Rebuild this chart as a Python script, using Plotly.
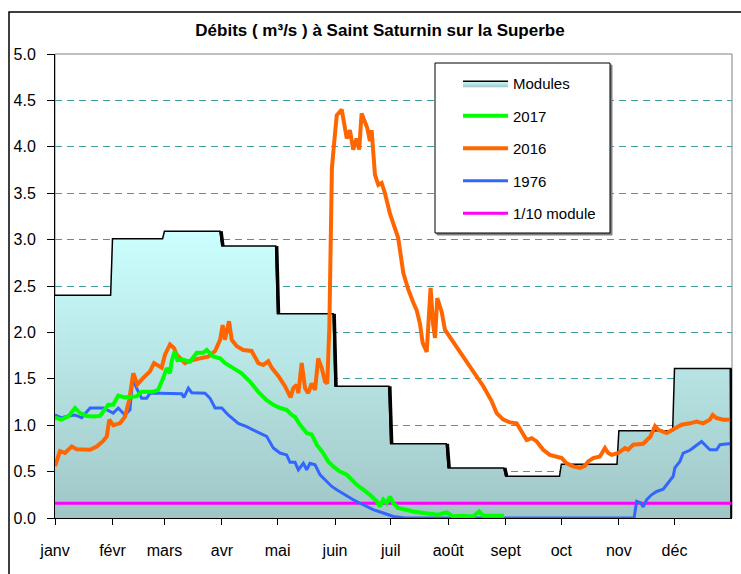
import pandas as pd
import plotly.graph_objects as go

# ---------------- data ----------------
months = ["janv", "févr", "mars", "avr", "mai", "juin", "juil", "août", "sept", "oct", "nov", "déc"]
modules = [2.40, 3.01, 3.09, 2.93, 2.20, 1.42, 0.80, 0.54, 0.45, 0.58, 0.94, 1.61]
tenth_module = 0.16

# (day of year, m3/s)
pts_2017 = [
    [0, 1.08], [3.4, 1.06], [7.2, 1.095], [10.8, 1.185], [13.5, 1.13], [17.1, 1.10], [20.7, 1.095],
    [24.3, 1.10], [28.7, 1.22], [31.4, 1.22], [34.1, 1.32], [37.7, 1.30], [44, 1.31], [46.7, 1.36],
    [53, 1.36], [55.6, 1.38], [58.4, 1.51], [60.2, 1.615], [62, 1.56], [62.9, 1.69], [64.5, 1.795],
    [66, 1.70], [69.2, 1.705], [72.8, 1.685], [76.4, 1.78], [79.9, 1.78], [81.8, 1.81], [85.3, 1.74],
    [89, 1.72], [91.6, 1.67], [96.1, 1.615], [100.6, 1.56], [105.1, 1.47], [109.6, 1.36], [114.1, 1.27],
    [117.7, 1.22], [121.3, 1.185], [124.9, 1.165], [127.6, 1.11], [129.4, 1.09], [132.1, 1.005],
    [135.7, 0.915], [138.4, 0.90], [141.1, 0.79], [144.6, 0.70], [147.3, 0.61], [150, 0.556],
    [153.6, 0.50], [157.3, 0.466], [160, 0.41], [162.6, 0.36], [166.2, 0.305], [169.8, 0.25],
    [173.4, 0.18], [175.2, 0.125], [177, 0.197], [178.8, 0.16], [180.6, 0.23], [182.4, 0.16],
    [185, 0.108], [188.7, 0.09], [193.2, 0.07], [198.5, 0.054], [203.9, 0.036], [206.6, 0.036],
    [211.2, 0.06], [214.7, 0.017], [219.2, 0.025], [225.5, 0.017], [228.7, 0.07], [230.9, 0.025],
    [236.3, 0.025], [242, 0.025],
]

pts_2016 = [
    [0, 0.56], [2.7, 0.72], [5.4, 0.70], [9, 0.77], [11.7, 0.74], [15.3, 0.74], [18.9, 0.735],
    [22.5, 0.77], [26, 0.83], [27.9, 0.88], [29.3, 1.06], [31.4, 1.0], [35, 1.02], [37.7, 1.09],
    [40, 1.27], [42.2, 1.56], [44.4, 1.44], [47.6, 1.51], [51.2, 1.58], [53.4, 1.67], [57.5, 1.62],
    [59.3, 1.76], [62, 1.87], [64.2, 1.83], [65.6, 1.76], [70, 1.67], [73.7, 1.70], [78.2, 1.72],
    [82.6, 1.74], [86.3, 1.80], [89, 1.92], [90.4, 2.08], [91.6, 1.92], [93.8, 2.12], [95.3, 1.92],
    [98, 1.85], [101.5, 1.81], [106, 1.80], [109.6, 1.67], [112.3, 1.65], [115, 1.69], [116.8, 1.62],
    [120.4, 1.53], [124, 1.42], [127, 1.30], [128.5, 1.40], [130.3, 1.435], [131.2, 1.345],
    [133, 1.67], [134.8, 1.40], [136.5, 1.345], [138.4, 1.45], [140.2, 1.38], [141.9, 1.72],
    [143.8, 1.615], [145.6, 1.47], [146.8, 1.45], [147.9, 2.05], [148.6, 2.76], [149.3, 3.77],
    [150.4, 4.02], [151.9, 4.34], [154.6, 4.40], [156.3, 4.16], [157.3, 4.09], [159, 4.18],
    [160.8, 3.97], [162.6, 4.09], [164, 3.97], [165.3, 4.36], [167.1, 4.27], [168.4, 4.20],
    [169.8, 4.06], [170.7, 4.18], [172.5, 3.70], [174.3, 3.59], [176.1, 3.61], [177.9, 3.50],
    [180.6, 3.28], [183.3, 3.12], [185, 3.02], [187.8, 2.64], [190.5, 2.46], [193.2, 2.32],
    [195, 2.24], [196.8, 2.09], [198.2, 1.89], [200.4, 1.79], [202.5, 2.48], [203.9, 2.08],
    [204.9, 1.94], [206.1, 2.37], [208.5, 2.22], [210.2, 2.03], [216.5, 1.85], [223.7, 1.63],
    [230.9, 1.42], [235.4, 1.26], [238.1, 1.13], [241.7, 1.06], [245.3, 1.03], [248.9, 1.02],
    [251.6, 0.93], [254.3, 0.84], [257, 0.86], [259.7, 0.825], [263.2, 0.735], [266.8, 0.68],
    [270.5, 0.66], [273.2, 0.646], [275.8, 0.59], [279.4, 0.556], [283, 0.54], [285.7, 0.563],
    [287.5, 0.61], [290.2, 0.646], [293.8, 0.663], [296.5, 0.754], [298.3, 0.70], [300.1, 0.68],
    [303.7, 0.70], [307.3, 0.754], [309, 0.735], [311.8, 0.79], [317.1, 0.80], [319, 0.84],
    [321.1, 0.88], [323.5, 0.99], [325.3, 0.95], [329.8, 0.915], [333.3, 0.95], [337.8, 1.005],
    [342.3, 1.02], [345.9, 1.04], [349.5, 1.02], [353.1, 1.06], [354.6, 1.11], [356.7, 1.077],
    [360.3, 1.06], [364, 1.06],
]

pts_1976 = [
    [0, 1.11], [3.6, 1.08], [7.2, 1.10], [10.8, 1.11], [14.4, 1.08], [18.9, 1.185], [26, 1.185],
    [31.4, 1.13], [34.1, 1.185], [37.7, 1.11], [40.4, 1.165], [41.9, 1.51], [44, 1.40], [46.7, 1.29],
    [49.4, 1.29], [51.2, 1.345], [56.6, 1.345], [68.3, 1.34], [69.5, 1.30], [71.9, 1.40], [73.7, 1.35],
    [80.9, 1.345], [83.6, 1.29], [86.3, 1.185], [89.9, 1.185], [93.4, 1.11], [98.8, 1.02],
    [103.3, 0.985], [108.7, 0.93], [114.1, 0.88], [117.7, 0.755], [121.3, 0.70], [124.9, 0.68],
    [126.7, 0.60], [129.4, 0.60], [131.2, 0.52], [133.9, 0.59], [135.7, 0.52], [137.5, 0.59],
    [140.2, 0.574], [142.9, 0.466], [146.5, 0.394], [149.2, 0.34], [151.9, 0.305], [156.3, 0.25],
    [160.8, 0.197], [166.2, 0.143], [171.6, 0.09], [177, 0.054], [182.4, 0.017], [188.7, 0.0],
    [312.2, 0.0], [313.6, 0.18], [315.7, 0.165], [317.1, 0.12], [319, 0.197], [321.6, 0.25],
    [324.4, 0.286], [327.9, 0.31], [330.6, 0.377], [333.3, 0.45], [334.2, 0.54], [336.9, 0.61],
    [338.7, 0.70], [342.3, 0.73], [345, 0.77], [348.6, 0.825], [351.3, 0.77], [353.1, 0.735],
    [356.7, 0.735], [358.5, 0.79], [363, 0.80], [364, 0.80],
]

# ---------------- helpers ----------------
base = pd.Timestamp("2017-01-01")
month_starts = pd.date_range(base, periods=13, freq="MS")
start_days = [(m - base).days for m in month_starts]


def to_x(days):
    return [base + pd.Timedelta(days=float(d)) for d in days]


def split(pts):
    return to_x([p[0] for p in pts]), [p[1] for p in pts]


# module step outline
mod_d, mod_v = [], []
for i, v in enumerate(modules):
    s = start_days[i]
    e = start_days[i + 1] - 1 if i < 11 else start_days[12] - 0.7
    mod_d += [s, e]
    mod_v += [v, v]
mod_d.append(start_days[12] - 0.3)
mod_v.append(0.0)

# thicker descending edges
drop_d, drop_v = [], []
for i in range(11):
    if modules[i + 1] < modules[i]:
        drop_d += [start_days[i + 1] - 1 + 0.5, start_days[i + 1] + 0.5, None]
        drop_v += [modules[i], modules[i + 1], None]
drop_d += [start_days[12] - 0.7 + 0.3, start_days[12] - 0.3 + 0.3]
drop_v += [modules[11], 0.0]
drop_x = [None if d is None else base + pd.Timedelta(days=float(d)) for d in drop_d]

FONT = "Liberation Sans, Arial, sans-serif"

fig = go.Figure()

fig.add_trace(go.Scatter(
    x=to_x(mod_d), y=mod_v, mode="lines", name="Modules",
    line=dict(color="black", width=1.5),
    fill="tozeroy",
    fillgradient=dict(type="vertical", start=0, stop=3.1,
                      colorscale=[[0, "#a0c6c6"], [1, "#ccffff"]]),
    legendgroup="g1", legendrank=1, hoverinfo="skip",
))
fig.add_trace(go.Scatter(
    x=drop_x, y=drop_v, mode="lines", line=dict(color="black", width=3.5),
    showlegend=False, hoverinfo="skip", connectgaps=False,
))
fig.add_trace(go.Scatter(
    x=[base, base + pd.Timedelta(days=364.7)], y=[tenth_module, tenth_module], mode="lines",
    name="1/10 module", line=dict(color="#ff00ff", width=3),
    legendgroup="g5", legendrank=5,
))
x76, y76 = split(pts_1976)
fig.add_trace(go.Scatter(x=x76, y=y76, mode="lines", name="1976",
                         line=dict(color="#3366ff", width=3), legendgroup="g4", legendrank=4))
x16, y16 = split(pts_2016)
fig.add_trace(go.Scatter(x=x16, y=y16, mode="lines", name="2016",
                         line=dict(color="#ff6600", width=4), legendgroup="g3", legendrank=3))
x17, y17 = split(pts_2017)
fig.add_trace(go.Scatter(x=x17, y=y17, mode="lines", name="2017",
                         line=dict(color="#00ff00", width=4), legendgroup="g2", legendrank=2))

W, H = 741, 574
L, R, T, B = 55, 9, 54, 56
pw, ph = W - L - R, H - T - B


def px(xp):
    return (xp - L) / pw


def py(yp):
    return (H - B - yp) / ph


shapes = [
    # outer chart border
    dict(type="rect", xref="paper", yref="paper", x0=px(9), x1=px(760), y0=py(600), y1=py(12),
         line=dict(color="black", width=1.5), fillcolor="rgba(0,0,0,0)", layer="below"),
    # plot area border
    dict(type="rect", xref="paper", yref="paper", x0=0, x1=1, y0=0, y1=1,
         line=dict(color="#808080", width=1), fillcolor="rgba(0,0,0,0)", layer="below"),
    # legend shadow + box
    dict(type="rect", xref="paper", yref="paper", x0=px(437), x1=px(612), y0=py(235), y1=py(65),
         line=dict(color="#808080", width=1), fillcolor="#808080", layer="above"),
    dict(type="rect", xref="paper", yref="paper", x0=px(435), x1=px(610), y0=py(233), y1=py(63),
         line=dict(color="black", width=1), fillcolor="white", layer="above"),
]

fig.update_layout(
    width=W, height=H,
    margin=dict(l=L, r=R, t=T, b=B),
    paper_bgcolor="white", plot_bgcolor="white",
    font=dict(family=FONT, color="black", size=16),
    title=dict(text="<b>Débits ( m³/s ) à Saint Saturnin sur la Superbe</b>",
               x=380 / W, xref="container", xanchor="center",
               y=1 - 30 / H, yref="container", yanchor="middle",
               font=dict(size=17, family=FONT, color="black")),
    showlegend=True,
    legend=dict(x=px(458), y=py(67), xanchor="left", yanchor="top",
                bgcolor="rgba(0,0,0,0)", borderwidth=0,
                font=dict(size=15, family=FONT), tracegroupgap=10, itemwidth=45),
    shapes=shapes,
    xaxis=dict(type="date", range=[base, month_starts[12]],
               tickvals=list(month_starts[:12]), ticktext=months,
               ticks="outside", ticklen=6, tickcolor="black", tickwidth=1,
               showline=True, linecolor="black", linewidth=1,
               showgrid=False, zeroline=False, ticklabelstandoff=12,
               tickfont=dict(size=16, family=FONT)),
    yaxis=dict(range=[0, 5], dtick=0.5, tick0=0, tickformat=".1f",
               ticks="outside", ticklen=7, tickcolor="black", tickwidth=1,
               showline=True, linecolor="black", linewidth=1,
               showgrid=True, gridcolor="#3f9e9e", gridwidth=1, griddash="7px,5px",
               zeroline=False, ticklabelstandoff=8,
               tickfont=dict(size=16, family=FONT)),
    hovermode=False,
)

fig.write_html("out.html", config={"displayModeBar": False},
               post_script="document.body.style.margin='0';document.body.style.overflow='hidden';")
